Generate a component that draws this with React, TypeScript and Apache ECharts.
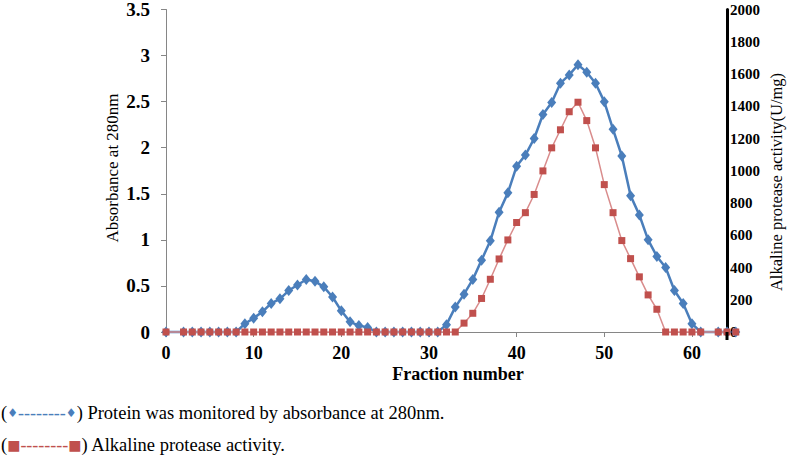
import React, { useEffect, useRef } from "react";
import * as echarts from "echarts";

const fractions = [0, 2, 3, 4, 5, 6, 7, 8, 9, 10, 11, 12, 13, 14, 15, 16, 17, 18, 19, 20, 21, 22, 23, 24, 25, 26, 27, 28, 29, 30, 31, 32, 33, 34, 35, 36, 37, 38, 39, 40, 41, 42, 43, 44, 45, 46, 47, 48, 49, 50, 51, 52, 53, 54, 55, 56, 57, 58, 59, 60, 61, 63, 64, 65];

const absorbance = [0, 0, 0, 0, 0, 0, 0, 0, 0.09, 0.15, 0.22, 0.31, 0.36, 0.45, 0.51, 0.57, 0.55, 0.49, 0.38, 0.23, 0.11, 0.07, 0.05, 0, 0, 0, 0, 0, 0, 0, 0, 0.08, 0.27, 0.41, 0.57, 0.78, 0.99, 1.3, 1.51, 1.8, 1.92, 2.1, 2.36, 2.49, 2.7, 2.79, 2.9, 2.82, 2.7, 2.5, 2.2, 1.91, 1.48, 1.27, 1.0, 0.82, 0.7, 0.45, 0.31, 0.09, 0, 0, 0, 0];

const activity = [0, 0, 0, 0, 0, 0, 0, 0, 0, 0, 0, 0, 0, 0, 0, 0, 0, 0, 0, 0, 0, 0, 0, 0, 0, 0, 0, 0, 0, 0, 0, 0, 0, 55, 116, 208, 327, 453, 571, 679, 740, 853, 999, 1142, 1254, 1366, 1425, 1311, 1142, 914, 740, 567, 455, 342, 230, 141, 0, 0, 0, 0, 0, 0, 0, 0];

const xTitle = "Fraction number";
const leftTitle = "Absorbance at 280nm";
const rightTitle = "Alkaline protease activity(U/mg)";
const legend1 = "Protein was monitored by absorbance at 280nm.";
const legend2 = "Alkaline protease activity.";

const SERIF = "Times New Roman, Liberation Serif, DejaVu Serif, serif";
const BLUE = "#4A7EBB";
const RED = "#C0504D";

export default function App() {
  const ref = useRef<HTMLDivElement>(null);
  useEffect(() => {
    if (!ref.current) return;
    const chart = echarts.init(ref.current, null, { renderer: "svg" });
    const blueData = fractions.map((f, i) => [f, absorbance[i]]);
    const redData = fractions.map((f, i) => [f, activity[i]]);
    chart.setOption({
      animation: false,
      backgroundColor: "#ffffff",
      textStyle: { fontFamily: SERIF },
      grid: { left: 166, right: 60, top: 5, bottom: 123, containLabel: false },
      xAxis: {
        type: "value",
        min: 0,
        max: 64,
        interval: 10,
        splitLine: { show: false },
        axisLine: { show: true, lineStyle: { color: "#868686", width: 1 } },
        axisTick: { show: true, length: 5, lineStyle: { color: "#868686" } },
        axisLabel: {
          margin: 12,
          fontFamily: SERIF,
          fontWeight: "bold",
          fontSize: 18,
          lineHeight: 18,
          color: "#000",
          showMaxLabel: false,
          formatter: (v: number) => String(v),
        },
      },
      yAxis: [
        {
          type: "value",
          min: 0,
          max: 3.5,
          interval: 0.5,
          position: "left",
          splitLine: { show: false },
          axisLine: { show: true, lineStyle: { color: "#868686", width: 1 } },
          axisTick: { show: true, length: 5, lineStyle: { color: "#868686" } },
          axisLabel: {
            margin: 16,
            fontFamily: SERIF,
            fontWeight: "bold",
            fontSize: 19,
            color: "#000",
            formatter: (v: number) => String(v),
          },
        },
        {
          type: "value",
          min: 0,
          max: 2000,
          interval: 200,
          position: "right",
          splitLine: { show: false },
          axisLine: { show: true, lineStyle: { color: "#000", width: 3 } },
          axisTick: { show: false },
          axisLabel: {
            margin: 3,
            fontFamily: SERIF,
            fontWeight: "bold",
            fontSize: 15,
            color: "#000",
            formatter: (v: number) => String(v),
          },
        },
      ],
      series: [
        {
          type: "line",
          name: "Protein",
          yAxisIndex: 0,
          data: blueData,
          clip: false,
          symbol: "diamond",
          symbolSize: [9, 11],
          lineStyle: { color: BLUE, width: 2.5 },
          itemStyle: { color: BLUE },
          z: 2,
        },
        {
          type: "line",
          name: "Activity",
          yAxisIndex: 1,
          data: redData,
          clip: false,
          symbol: "rect",
          symbolSize: 7,
          lineStyle: { color: "#D98C8C", width: 1.5 },
          itemStyle: { color: RED },
          z: 3,
        },
      ],
      graphic: [
        {
          type: "line",
          shape: { x1: 727, y1: 332, x2: 727, y2: 340 },
          style: { stroke: "#000", lineWidth: 3 },
          z: 10,
        },
        {
          type: "text",
          x: 458,
          y: 374,
          style: {
            text: xTitle,
            fontFamily: SERIF,
            fontWeight: "bold",
            fontSize: 18,
            lineHeight: 16,
            fill: "#000",
            align: "center",
            verticalAlign: "middle",
          },
        },
        {
          type: "text",
          x: 112,
          y: 168,
          rotation: Math.PI / 2,
          style: {
            text: leftTitle,
            fontFamily: SERIF,
            fontSize: 17,
            fill: "#000",
            align: "center",
            verticalAlign: "middle",
          },
        },
        {
          type: "text",
          x: 776,
          y: 182,
          rotation: Math.PI / 2,
          style: {
            text: rightTitle,
            fontFamily: SERIF,
            fontSize: 16.5,
            fill: "#000",
            align: "center",
            verticalAlign: "middle",
          },
        },
        {
          type: "text",
          x: 1,
          y: 413,
          style: {
            text: "(" + "{d|♦}{h|--------}{d|♦}" + ") " + legend1,
            fontFamily: SERIF,
            fontSize: 18.5,
            fill: "#000",
            align: "left",
            verticalAlign: "middle",
            rich: {
              d: { fontFamily: "DejaVu Sans", fontSize: 12, fill: BLUE },
              h: { fontFamily: SERIF, fontSize: 18, fill: BLUE },
            },
          },
        },
        {
          type: "text",
          x: 1,
          y: 445,
          style: {
            text: "(" + "{s|■}{h|--------}{s|■}" + ") " + legend2,
            fontFamily: SERIF,
            fontSize: 18.5,
            fill: "#000",
            align: "left",
            verticalAlign: "middle",
            rich: {
              s: { fontFamily: "DejaVu Sans", fontSize: 14, fill: RED },
              h: { fontFamily: SERIF, fontSize: 18, fill: RED },
            },
          },
        },
      ],
    });
    return () => chart.dispose();
  }, []);
  return (
    <div
      ref={ref}
      style={{ position: "absolute", left: 0, top: 0, width: 787, height: 455 }}
    />
  );
}
